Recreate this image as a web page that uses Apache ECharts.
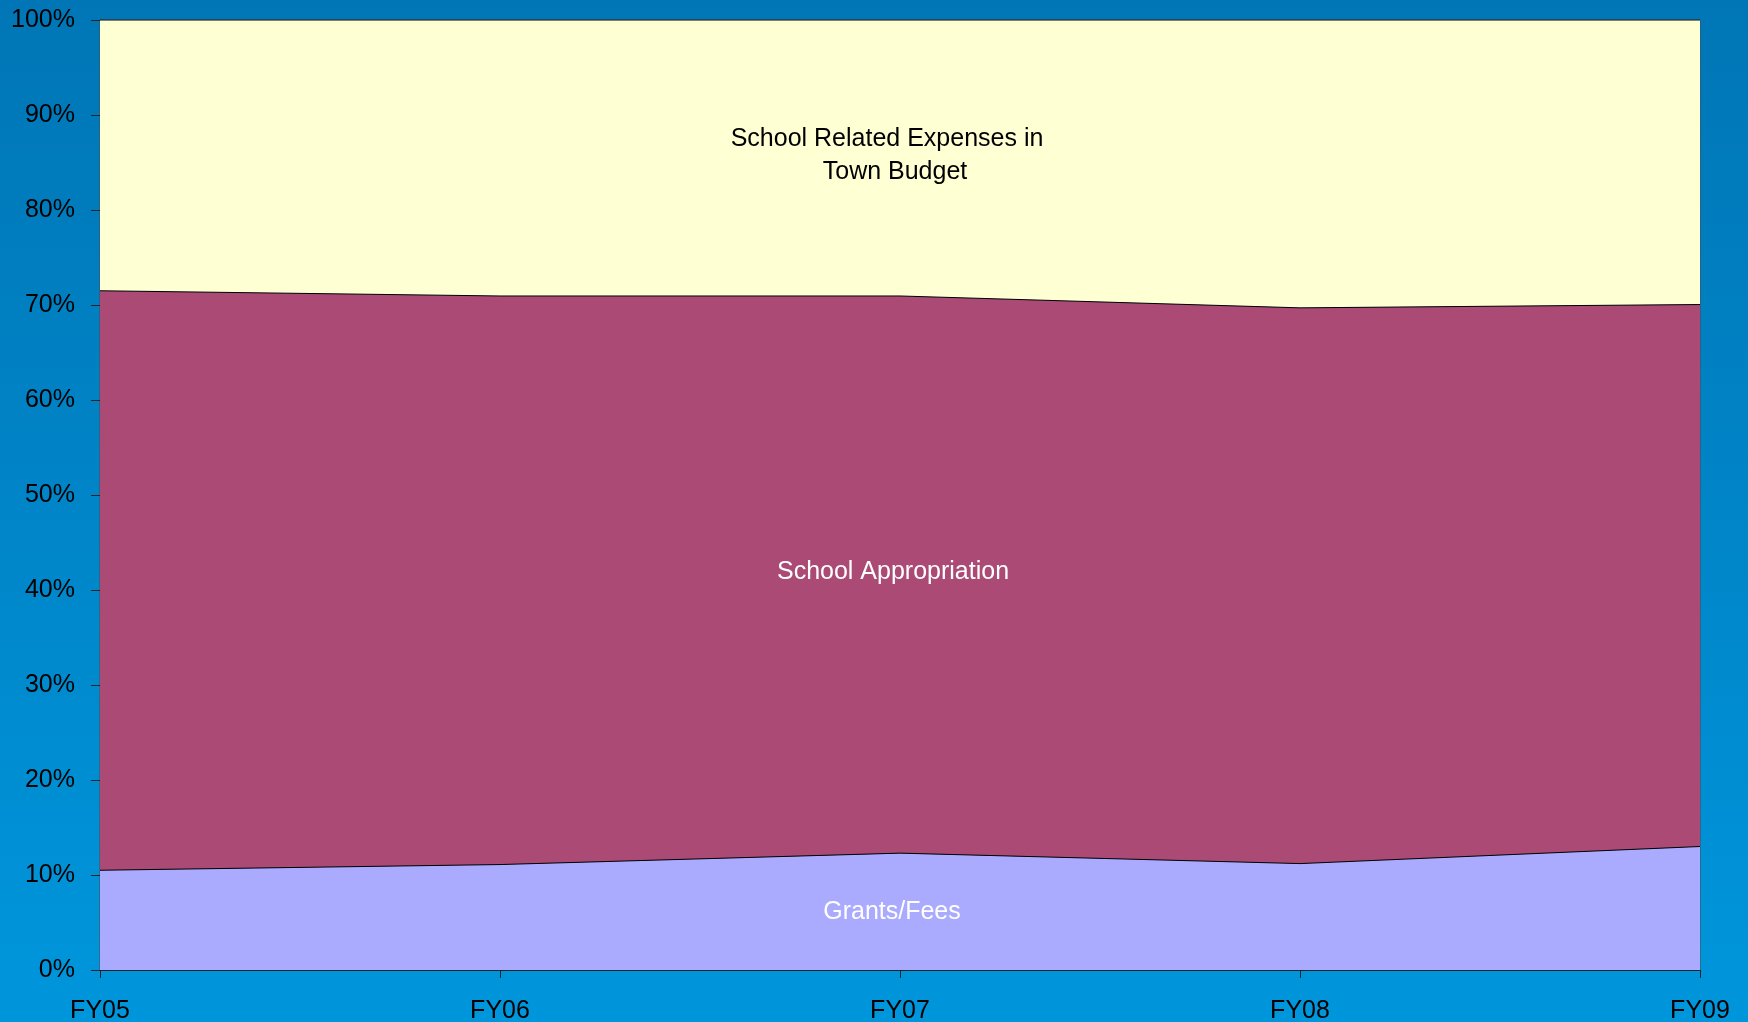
<!DOCTYPE html>
<html>
<head>
<meta charset="utf-8">
<script src="https://cdn.jsdelivr.net/npm/echarts@6/dist/echarts.min.js"></script>
<style>
html,body{margin:0;padding:0;width:1748px;height:1022px;overflow:hidden;}
#c{width:1748px;height:1022px;background:linear-gradient(to bottom,#0076b6 0%,#0085c8 50%,#0096dc 100%);}
</style>
</head>
<body>
<div id="c"></div>
<script>
var categories = ['FY05','FY06','FY07','FY08','FY09'];
var grantsFees = [10.5, 11.1, 12.3, 11.2, 13.0];
var schoolAppropriation = [61.0, 59.85, 58.65, 58.5, 57.05];
var townBudget = [28.5, 29.05, 29.05, 30.3, 29.95];
var yTickLabels = ['0%','10%','20%','30%','40%','50%','60%','70%','80%','90%','100%'];

var chart = echarts.init(document.getElementById('c'), null, {renderer:'canvas'});
var fontFam = 'Liberation Sans, Arial, sans-serif';
function areaSeries(name, data, color){
  return {
    name: name, type: 'line', stack: 'total', data: data,
    symbol: 'none', smooth: false,
    lineStyle: {color: '#000', width: 1},
    areaStyle: {color: color, opacity: 1},
    z: 2
  };
}
chart.setOption({
  backgroundColor: 'transparent',
  animation: false,
  grid: {left: 100, right: 48, top: 20, bottom: 52, show: true, borderColor: '#4a4a4a', borderWidth: 1, containLabel: false, outerBoundsMode: 'none'},
  xAxis: {
    type: 'category', data: categories, boundaryGap: false,
    axisLine: {lineStyle: {color: '#222', width: 1}},
    axisTick: {show: true, length: 8, lineStyle: {color: '#222'}},
    axisLabel: {color: '#000', fontSize: 25, fontFamily: fontFam, margin: 29},
    splitLine: {show: false}
  },
  yAxis: {
    type: 'value', min: 0, max: 100, interval: 10,
    axisLine: {show: true, lineStyle: {color: '#222', width: 1}},
    axisTick: {show: true, length: 9, lineStyle: {color: '#222'}},
    axisLabel: {color: '#000', fontSize: 25, fontFamily: fontFam, margin: 25,
      formatter: function(v){ return yTickLabels[Math.round(v/10)]; }},
    splitLine: {show: false}
  },
  series: [
    areaSeries('Grants/Fees', grantsFees, '#aaaaff'),
    areaSeries('School Appropriation', schoolAppropriation, '#aa4a75'),
    areaSeries('School Related Expenses in Town Budget', townBudget, '#ffffd4')
  ],
  graphic: [
    {type:'text', x: 887, y: 139, style:{text:'School Related Expenses in', fill:'#000', font:'25px '+fontFam, textAlign:'center', textVerticalAlign:'middle'}, z: 10},
    {type:'text', x: 895, y: 172, style:{text:'Town Budget', fill:'#000', font:'25px '+fontFam, textAlign:'center', textVerticalAlign:'middle'}, z: 10},
    {type:'text', x: 893, y: 572, style:{text:'School Appropriation', fill:'#fff', font:'25px '+fontFam, textAlign:'center', textVerticalAlign:'middle'}, z: 10},
    {type:'text', x: 892, y: 912, style:{text:'Grants/Fees', fill:'#fff', font:'25px '+fontFam, textAlign:'center', textVerticalAlign:'middle'}, z: 10}
  ]
});
</script>
</body>
</html>
